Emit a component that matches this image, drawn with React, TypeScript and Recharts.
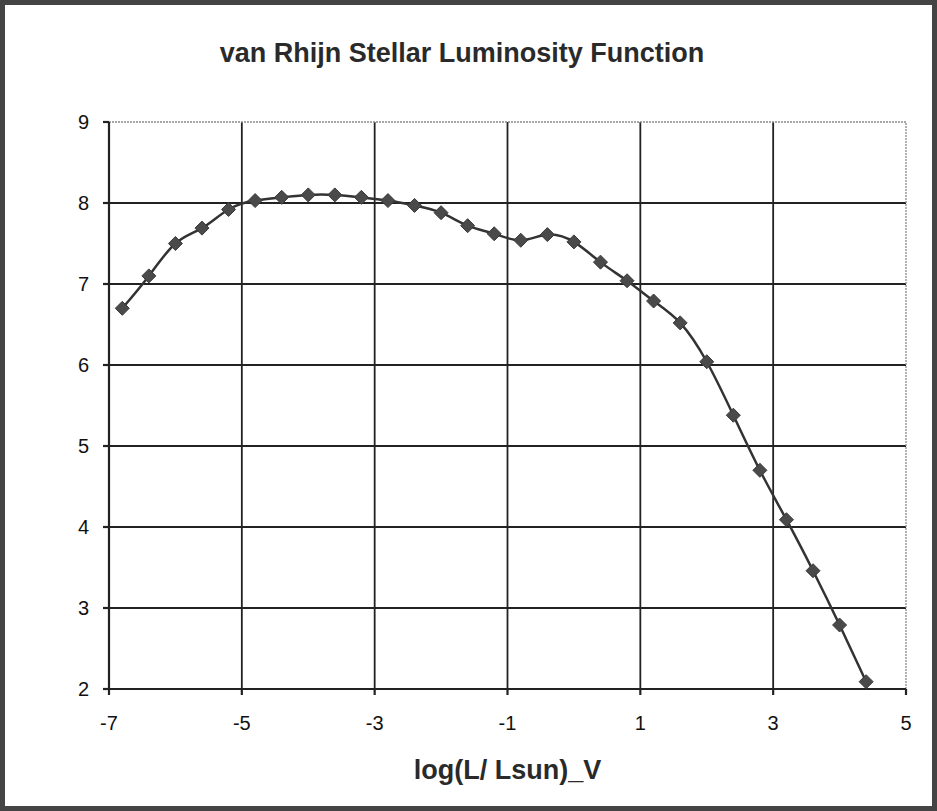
import React from "react";
import { LineChart, Line, XAxis, YAxis, ReferenceLine } from "recharts";

const logL = [-6.8, -6.4, -6.0, -5.6, -5.2, -4.8, -4.4, -4.0, -3.6, -3.2, -2.8, -2.4, -2.0, -1.6, -1.2, -0.8, -0.4, 0.0, 0.4, 0.8, 1.2, 1.6, 2.0, 2.4, 2.8, 3.2, 3.6, 4.0, 4.4];
const phi = [6.7, 7.1, 7.5, 7.69, 7.92, 8.03, 8.07, 8.1, 8.1, 8.07, 8.03, 7.97, 7.88, 7.72, 7.62, 7.54, 7.61, 7.52, 7.27, 7.04, 6.79, 6.52, 6.04, 5.38, 4.7, 4.09, 3.46, 2.79, 2.09];
const xTicks = [-7, -5, -3, -1, 1, 3, 5];
const yTicks = [2, 3, 4, 5, 6, 7, 8, 9];
const title = "van Rhijn Stellar Luminosity Function";
const xTitle = "log(L/ Lsun)_V";

const data = logL.map((x, i) => ({ x, y: phi[i] }));

const FONT = '"Liberation Sans", Arial, Helvetica, sans-serif';

const Diamond = (props: any) => {
  const { cx, cy, index } = props;
  if (cx == null || cy == null) return <g key={index} />;
  const r = 7;
  return (
    <polygon
      key={index}
      points={`${cx},${cy - r} ${cx + r},${cy} ${cx},${cy + r} ${cx - r},${cy}`}
      fill="#4a4a4a"
      stroke="#3a3a3a"
      strokeWidth={1}
    />
  );
};

export default function App() {
  return (
    <div style={{ position: "absolute", left: 0, top: 0, width: 937, height: 811, background: "#fff", fontFamily: FONT }}>
      <LineChart
        width={937}
        height={811}
        data={data}
        margin={{ top: 122, right: 31, bottom: 22, left: 0 }}
      >
        {xTicks.slice(1, -1).map((t) => (
          <ReferenceLine key={"vx" + t} x={t} stroke="#222" strokeWidth={1.8} />
        ))}
        {yTicks.slice(1, -1).map((t) => (
          <ReferenceLine key={"hy" + t} y={t} stroke="#222" strokeWidth={1.8} />
        ))}
        <ReferenceLine x={5} stroke="#8a8a8a" strokeWidth={1.3} strokeDasharray="2 1" />
        <ReferenceLine y={9} stroke="#8a8a8a" strokeWidth={1.3} strokeDasharray="2 1" />
        <XAxis
          dataKey="x"
          type="number"
          domain={[-7, 5]}
          ticks={xTicks}
          allowDataOverflow
          height={100}
          stroke="#222"
          strokeWidth={2.2}
          tickSize={6}
          tickMargin={21}
          tick={{ fontSize: 20, fill: "#111", fontFamily: FONT }}
          label={{
            value: xTitle,
            position: "insideBottom",
            offset: 10,
            style: { fontSize: 27, fontWeight: "bold", fill: "#2a2a2a", fontFamily: FONT },
          }}
        />
        <YAxis
          type="number"
          domain={[2, 9]}
          ticks={yTicks}
          allowDataOverflow
          width={109}
          stroke="#222"
          strokeWidth={2.2}
          tickSize={6}
          tickMargin={14}
          tick={{ fontSize: 20, fill: "#111", fontFamily: FONT }}
        />
        <Line
          dataKey="y"
          type="natural"
          stroke="#333"
          strokeWidth={2.5}
          dot={Diamond}
          activeDot={false}
          isAnimationActive={false}
        />
      </LineChart>
      <div
        style={{
          position: "absolute",
          left: 0,
          top: 38,
          width: 924,
          textAlign: "center",
          fontSize: 27,
          fontWeight: "bold",
          color: "#2a2a2a",
          fontFamily: FONT,
          lineHeight: "31px",
        }}
      >
        {title}
      </div>
      <div
        style={{
          position: "absolute",
          left: 0,
          top: 0,
          width: 937,
          height: 811,
          boxSizing: "border-box",
          border: "5px solid #444",
          pointerEvents: "none",
        }}
      />
    </div>
  );
}
